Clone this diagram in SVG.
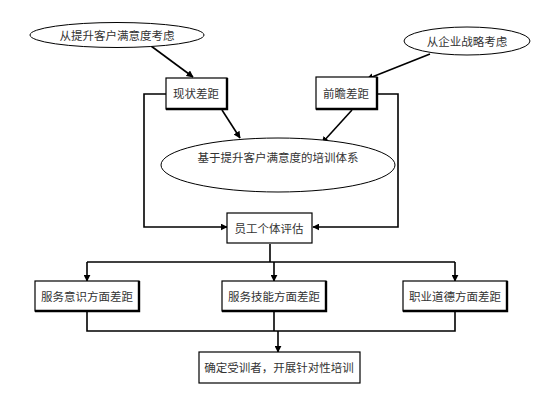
<svg xmlns="http://www.w3.org/2000/svg" width="560" height="396" viewBox="0 0 560 396">
<style>
.box{fill:#fff;stroke:#000;stroke-width:1.2}
.sh{fill:none;stroke:#000;stroke-width:2.4}
.ell{fill:#fff;stroke:#000;stroke-width:1}
.t{font-family:"Noto Sans CJK SC","Noto Sans",sans-serif;font-size:11.5px;fill:#333;text-anchor:middle;dominant-baseline:central}
.c{fill:none;stroke:#000;stroke-width:1.6}
</style>
<defs>
<marker id="ah" viewBox="0 0 10 10" refX="9" refY="5" markerWidth="7" markerHeight="7" markerUnits="userSpaceOnUse" orient="auto">
<path d="M0,0 L10,5 L0,10 z" fill="#000"/>
</marker>
</defs>
<rect width="560" height="396" fill="#fff"/>
<g id="connectors">
<path class="c" d="M147,43 L193,77" marker-end="url(#ah)"/>
<path class="c" d="M430,54 L367,79" marker-end="url(#ah)"/>
<path class="c" d="M222,110 L240,138" marker-end="url(#ah)"/>
<path class="c" d="M352,110 L322,143" marker-end="url(#ah)"/>
<path class="c" d="M166,94 L144,94 L144,227 L227,227" marker-end="url(#ah)"/>
<path class="c" d="M377,94 L398,94 L398,227 L313,227" marker-end="url(#ah)"/>
<path class="c" d="M270,244 L270,262"/>
<path class="c" d="M87,262 L455,262"/>
<path class="c" d="M87,262 L87,281" marker-end="url(#ah)"/>
<path class="c" d="M274,262 L274,281" marker-end="url(#ah)"/>
<path class="c" d="M455,262 L455,281" marker-end="url(#ah)"/>
<path class="c" d="M87,312 L87,331 L455,331 L455,312"/>
<path class="c" d="M274,312 L274,331"/>
<path class="c" d="M278,331 L278,352" marker-end="url(#ah)"/>
</g>
<g id="e1">
<ellipse class="ell" cx="117" cy="35" rx="87" ry="12.5"/>
<text class="t" x="117" y="35">从提升客户满意度考虑</text>
</g>
<g id="e2">
<ellipse class="ell" cx="467" cy="41" rx="63" ry="14"/>
<text class="t" x="467" y="41">从企业战略考虑</text>
</g>
<g id="n1">
<rect class="box" x="166" y="78" width="61" height="31"/>
<path class="sh" d="M227,78 L227,109 L166,109"/>
<text class="t" x="196" y="93">现状差距</text>
</g>
<g id="n2">
<rect class="box" x="316" y="77" width="61" height="32"/>
<path class="sh" d="M377,77 L377,109 L316,109"/>
<text class="t" x="346" y="93">前瞻差距</text>
</g>
<g id="e3">
<ellipse class="ell" cx="278" cy="165" rx="117" ry="27"/>
<text class="t" x="278" y="157">基于提升客户满意度的培训体系</text>
</g>
<g id="n3">
<rect class="box" x="227" y="213" width="85" height="30"/>
<text class="t" x="269" y="228">员工个体评估</text>
</g>
<g id="n4">
<rect class="box" x="35" y="281" width="104" height="30"/>
<path class="sh" d="M139,281 L139,311 L35,311"/>
<text class="t" x="87" y="296">服务意识方面差距</text>
</g>
<g id="n5">
<rect class="box" x="222" y="281" width="104" height="30"/>
<path class="sh" d="M326,281 L326,311 L222,311"/>
<text class="t" x="274" y="296">服务技能方面差距</text>
</g>
<g id="n6">
<rect class="box" x="403" y="281" width="104" height="30"/>
<path class="sh" d="M507,281 L507,311 L403,311"/>
<text class="t" x="455" y="296">职业道德方面差距</text>
</g>
<g id="n7">
<rect class="box" x="199" y="352" width="161" height="31"/>
<text class="t" x="279" y="367">确定受训者，开展针对性培训</text>
</g>
</svg>
